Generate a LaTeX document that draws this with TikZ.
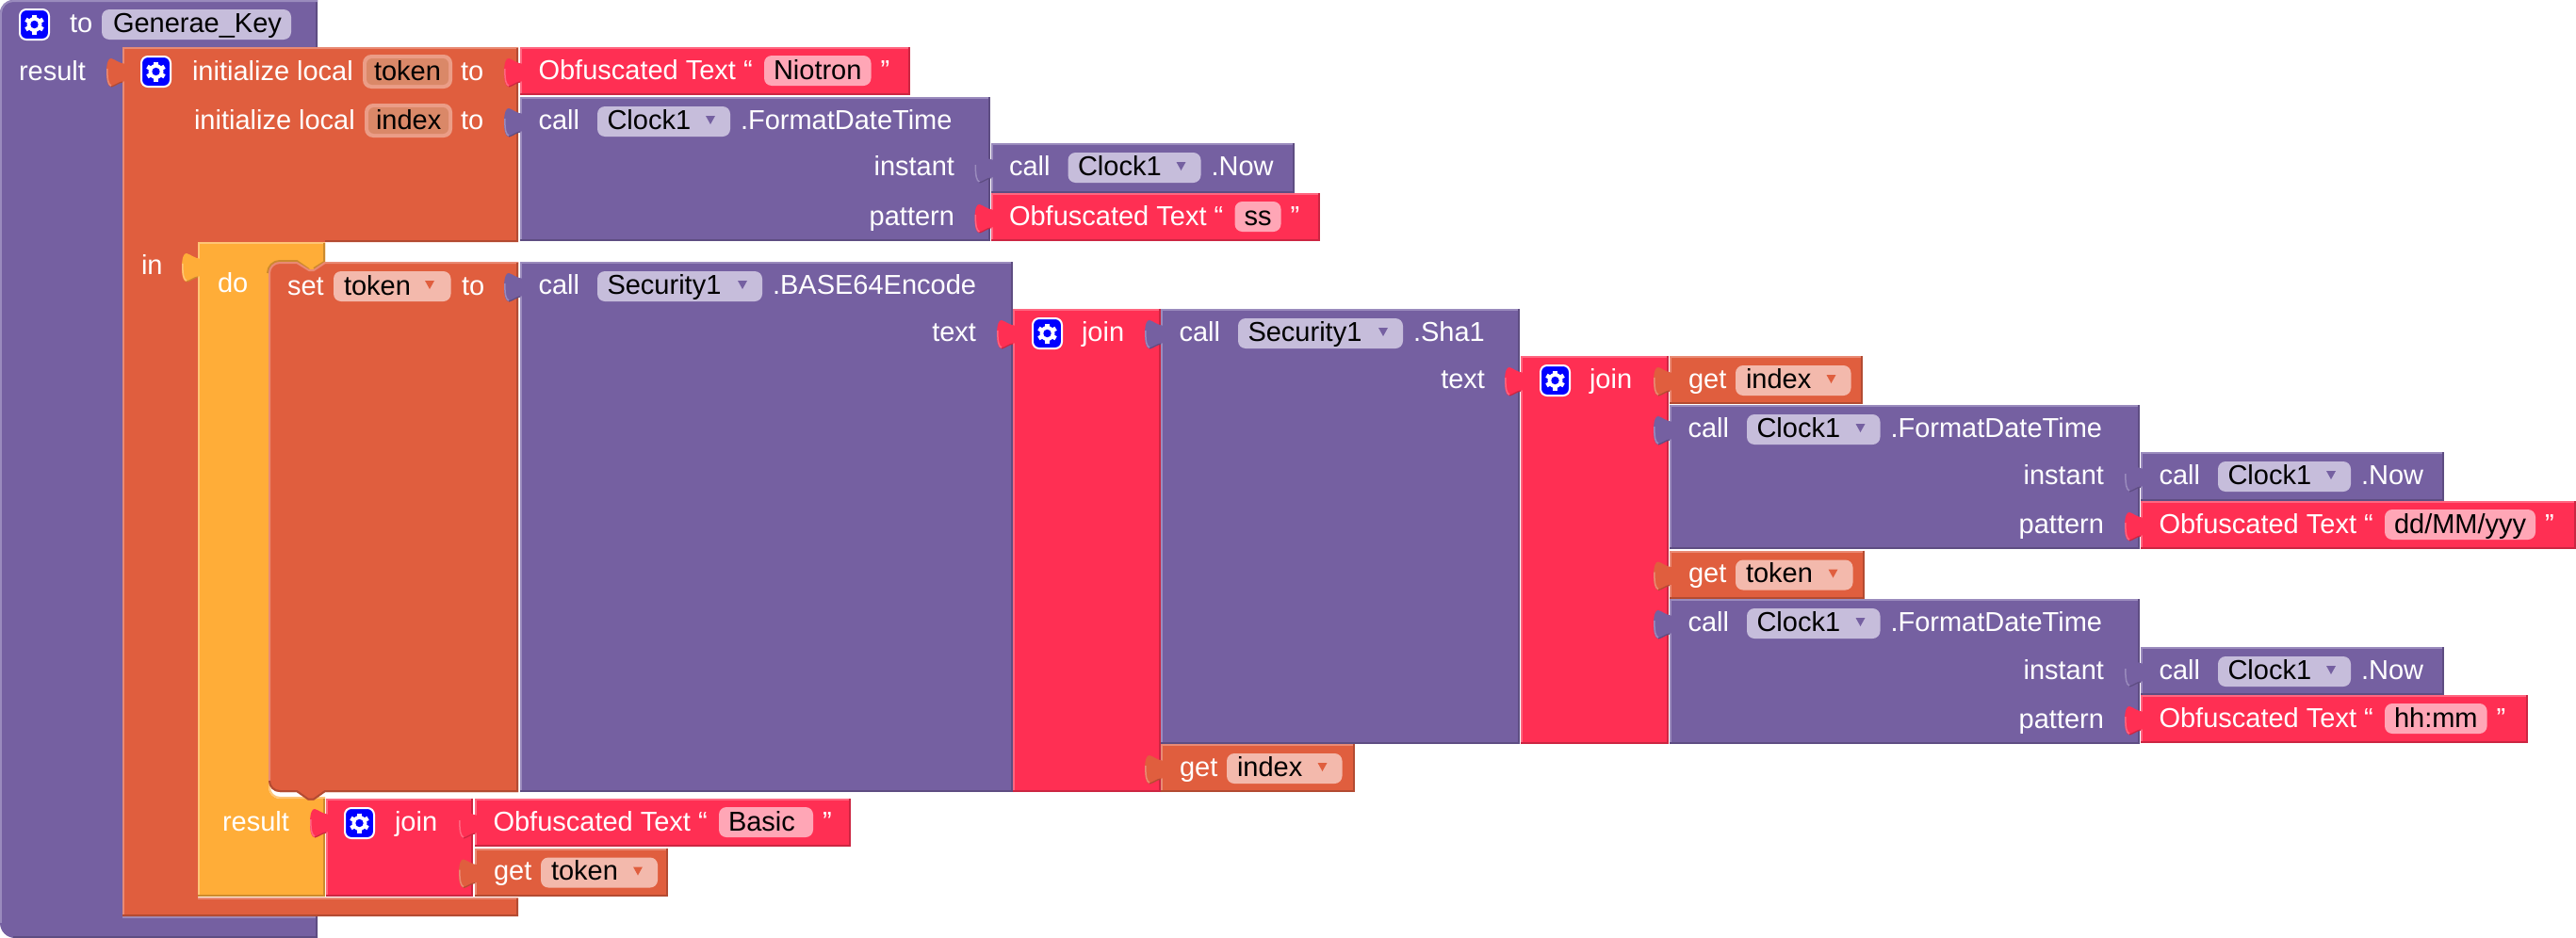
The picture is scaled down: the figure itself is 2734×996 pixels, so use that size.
\documentclass[tikz,border=0pt]{standalone}
\usepackage{fontspec}
\setmainfont{Liberation Sans}
\definecolor{purM}{HTML}{7560A1}\definecolor{purL}{HTML}{9A8BBD}\definecolor{purD}{HTML}{5E4D82}\definecolor{purF}{HTML}{C6BDDB}
\definecolor{oraM}{HTML}{E05E3E}\definecolor{oraL}{HTML}{E98A74}\definecolor{oraD}{HTML}{B34B32}\definecolor{oraF}{HTML}{F3B9AC}
\definecolor{redM}{HTML}{FF2F53}\definecolor{redL}{HTML}{FF6680}\definecolor{redD}{HTML}{CC2642}\definecolor{redF}{HTML}{FFA6B6}
\definecolor{yelM}{HTML}{FFAD38}\definecolor{yelL}{HTML}{FFC576}\definecolor{yelD}{HTML}{CC8A2D}
\definecolor{iniO}{HTML}{EB9D87}\definecolor{iniI}{HTML}{DA8868}
\definecolor{iconB}{HTML}{0000FF}
\newcounter{nn}
\tikzset{
  wt/.style={text=white,inner sep=0pt,outer sep=0pt,font=\fontsize{29}{29}\selectfont},
  bk/.style={wt,text=black},
  eL/.style={line width=2pt},
  eD/.style={line width=2pt}
}
% white label, left / right aligned; black label
\newcommand\wlab[3]{\stepcounter{nn}\node[wt,anchor=base west] (t\arabic{nn}) at (#1,#2) {#3};}
\newcommand\wrab[3]{\stepcounter{nn}\node[wt,anchor=base east] (t\arabic{nn}) at (#1,#2) {#3};}
\newcommand\blab[3]{\stepcounter{nn}\node[bk,anchor=base west] (t\arabic{nn}) at (#1,#2) {#3};}
% plain block  x1 y1 x2 y2 colourprefix
\newcommand\blk[5]{%
  \fill[#5M] (#1,#2) rectangle (#3,#4);
  \draw[#5L,eL] (#1+1,#4) -- (#1+1,#2+1) -- (#3,#2+1);
  \draw[#5D,eD] (#3-1,#2) -- (#3-1,#4-1) -- (#1,#4-1);
}
% input tab on left edge of a block: x yc colour
\newcommand\tabp[3]{%
  \fill[#3M] (#1+3,#2-9) .. controls (#1-4,#2-10) and (#1-8,#2-14) .. (#1-12,#2-15) .. controls (#1-15,#2-15.5) and (#1-17,#2-10) .. (#1-17,#2) .. controls (#1-17,#2+10) and (#1-15,#2+15.5) .. (#1-12,#2+15) .. controls (#1-8,#2+14) and (#1-4,#2+10) .. (#1+3,#2+9) -- cycle;
  \draw[#3L,line width=1.5pt] (#1-16.2,#2-4) .. controls (#1-16.2,#2+8) and (#1-15,#2+13) .. (#1-12,#2+14);
  \draw[#3D,line width=1.2pt] (#1-12,#2+15) .. controls (#1-8,#2+14) and (#1-4,#2+10.5) .. (#1,#2+10);
}
\newcommand\fieldbox[5]{\fill[#5,rounded corners=8pt] (#1,#2+#3) rectangle (#4,#2+#3+32);}
\newcommand\ddtri[3]{\fill[#3M] (#1-5,#2+20) -- (#1+5,#2+20) -- (#1,#2+29) -- cycle;}
\newcommand\gearicon[2]{%
  \fill[iconB,draw=white,line width=2pt,rounded corners=7pt] (#1+1,#2+1) rectangle (#1+32,#2+33);
  \begin{scope}[shift={(#1+16.5,#2+17)}]
    \foreach \a in {30,90,150} \draw[white,line width=4.6pt] (\a:10.5pt) -- (\a+180:10.5pt);
    \fill[white] (0,0) circle (8pt);
    \fill[iconB] (0,0) circle (4.2pt);
  \end{scope}
}
% dropdown call block: x0 top right bottom field-right-offset fieldtext suffix
\newcommand\callblk[7]{%
  \blk{#1}{#2}{#3}{#4}{pur}
  \tabp{#1}{#2+27}{pur}
  \wlab{#1+19.5}{#2+34}{call}
  \fieldbox{#1+82}{#2}{10}{#1+#5}{purF}
  \blab{#1+92.5}{#2+34}{#6}
  \ddtri{#1+#5-21}{#2}{pur}
  \wlab{#1+#5+11}{#2+34}{#7}
}
\newcommand\obf[5]{% x0 top right text fieldwidth
  \blk{#1}{#2}{#3}{#2+51}{red}
  \tabp{#1}{#2+27}{red}
  \wlab{#1+19.5}{#2+34}{Obfuscated Text “}
  \fieldbox{#1+259}{#2}{9}{#1+259+#5}{redF}
  \blab{#1+269}{#2+34}{#4}
  \wlab{#1+259+#5+10}{#2+34}{”}
}
\newcommand\getblk[5]{% x0 top right text fieldright
  \blk{#1}{#2}{#3}{#2+51}{ora}
  \tabp{#1}{#2+27}{ora}
  \wlab{#1+20}{#2+34}{get}
  \fieldbox{#1+70}{#2}{10}{#5}{oraF}
  \blab{#1+81}{#2+34}{#4}
  \ddtri{#5-21}{#2}{ora}
}
\newcommand\joinblk[3]{% x0 top bottom
  \blk{#1}{#2}{#1+157}{#3}{red}
  \tabp{#1}{#2+27}{red}
  \gearicon{#1+20}{#2+9}
  \wlab{#1+73}{#2+34}{join}
}
\begin{document}
\begin{tikzpicture}[x=1pt,y=-1pt]
\useasboundingbox (0,0) rectangle (2734,996);
\fill[white] (0,0) rectangle (2734,996);

% root procedure block
\fill[purM] (0,14) arc[start angle=180,end angle=90,radius=14pt] -- (337,0) -- (337,60) -- (130,60) -- (130,973) -- (337,973) -- (337,996) -- (16,996) arc[start angle=270,end angle=180,radius=16pt] -- cycle;
\draw[purD,eD] (336,0) -- (336,60);
\draw[purL,eL] (130,974) -- (337,974);
\draw[purD,eD] (337,995) -- (14,995);
\draw[purD,eD] (336,973) -- (336,995);
\draw[purL,eL] (1,14) arc[start angle=180,end angle=90,radius=13pt] -- (337,1);
\draw[purL,eL] (1,14) -- (1,980);
\gearicon{20}{9}
\wlab{74}{34}{to}
\fieldbox{108}{0}{10}{309}{purF}
\blab{120}{34}{Generae\_Key}
\wlab{20}{85}{result}

% local-variable block
\fill[oraM] (130,50) -- (550,50) -- (550,257) -- (210,257) -- (210,953) -- (550,953) -- (550,973) -- (130,973) -- cycle;
\draw[oraL,eL] (131,973) -- (131,51) -- (550,51);
\draw[oraD,eD] (549,51) -- (549,256) -- (345,256);
\draw[oraL,eL] (210,954) -- (550,954);
\draw[oraD,eD] (549,954) -- (549,972) -- (130,972);
\tabp{130}{77}{ora}
\gearicon{149}{59}
\wlab{204}{85}{initialize local}
\fill[iniO,rounded corners=9pt] (385,58) rectangle (480,94);
\fill[iniI,rounded corners=6pt] (389,62) rectangle (476,90);
\blab{397}{85}{token}
\wlab{489}{85}{to}
\wlab{206}{137}{initialize local}
\fill[iniO,rounded corners=9pt] (387,110) rectangle (480,146);
\fill[iniI,rounded corners=6pt] (391,114) rectangle (476,142);
\blab{399}{137}{index}
\wlab{489}{137}{to}
\wlab{150}{291}{in}

% do-result block
\fill[yelM] (210,257) -- (345,257) -- (345,278) -- (333,286) -- (328,286) -- (315,278) -- (297,278) arc[start angle=90,end angle=180,radius=12pt] -- (285,836) arc[start angle=180,end angle=270,radius=12pt] -- (345,848) -- (345,952) -- (210,952) -- cycle;
\draw[yelL,eL] (211,952) -- (211,258) -- (345,258);
\draw[yelD,eD] (344,258) -- (344,278) -- (333,285);
\draw[yelD,eD] (328,286) -- (315,277) -- (297,277) arc[start angle=90,end angle=180,radius=13pt];
\draw[yelL,eL] (286,820) -- (286,836) arc[start angle=180,end angle=270,radius=11pt] -- (345,847);
\draw[yelD,eD] (344,848) -- (344,951) -- (210,951);
\tabp{210}{284}{yel}
\wlab{231}{310}{do}
\wlab{236}{882}{result}

% set block
\fill[oraM] (285,290) arc[start angle=180,end angle=90,radius=12pt] -- (315,278) -- (328,286) -- (333,286) -- (345,278) -- (550,278) -- (550,841) -- (345,841) -- (333,849.5) -- (327,849.5) -- (315,841) -- (297,841) arc[start angle=270,end angle=180,radius=12pt] -- cycle;
\draw[oraL,eL] (286,829) -- (286,290) arc[start angle=180,end angle=90,radius=11pt] -- (315,279) -- (328,287) -- (333,287) -- (345,279) -- (550,279);
\draw[oraD,eD] (549,279) -- (549,840) -- (345,840) -- (333,848.5) -- (327,848.5) -- (315,840) -- (297,840) arc[start angle=270,end angle=180,radius=11pt];
\wlab{305}{313}{set}
\fieldbox{354}{278}{10}{478.5}{oraF}
\blab{365}{313}{token}
\ddtri{456}{278}{ora}
\wlab{490}{313}{to}

% first row of values
\obf{552}{50}{966}{Niotron}{113.5}
\callblk{552}{103}{1051}{256}{223}{Clock1}{.FormatDateTime}
\wrab{1013}{186}{instant}
\wrab{1013}{239}{pattern}
\callblk{1051.5}{152}{1374}{205}{223}{Clock1}{.Now}
\obf{1051.5}{205}{1401}{ss}{49}

% encode chain
\callblk{552}{278}{1075}{841}{257}{Security1}{.BASE64Encode}
\wrab{1036}{362}{text}
\joinblk{1075}{328}{841}
\callblk{1232}{328}{1613}{790}{257}{Security1}{.Sha1}
\wrab{1576}{412}{text}
\joinblk{1614}{378}{790}
\getblk{1772}{378}{1977}{index}{1964.5}
\callblk{1772}{430}{2271}{583}{223.5}{Clock1}{.FormatDateTime}
\wrab{2233}{514}{instant}
\wrab{2233}{566}{pattern}
\callblk{2272}{480}{2594}{532}{223}{Clock1}{.Now}
\obf{2272}{532}{2734}{dd/MM/yyy}{160}
\getblk{1772}{584.5}{1979}{token}{1966.5}
\callblk{1772}{636}{2271}{790}{223.5}{Clock1}{.FormatDateTime}
\wrab{2233}{721}{instant}
\wrab{2233}{773}{pattern}
\callblk{2272}{687}{2594}{738}{223}{Clock1}{.Now}
\obf{2272}{738}{2683}{hh:mm}{108.6}
\getblk{1232}{790}{1438}{index}{1424.5}

% result join
\blk{346}{848}{502}{952}{red}
\tabp{346}{874}{red}
\gearicon{365}{857}
\wlab{419}{882}{join}
\obf{504}{848}{903}{Basic}{100}
\getblk{504}{900.5}{709}{token}{698}
\end{tikzpicture}
\end{document}
